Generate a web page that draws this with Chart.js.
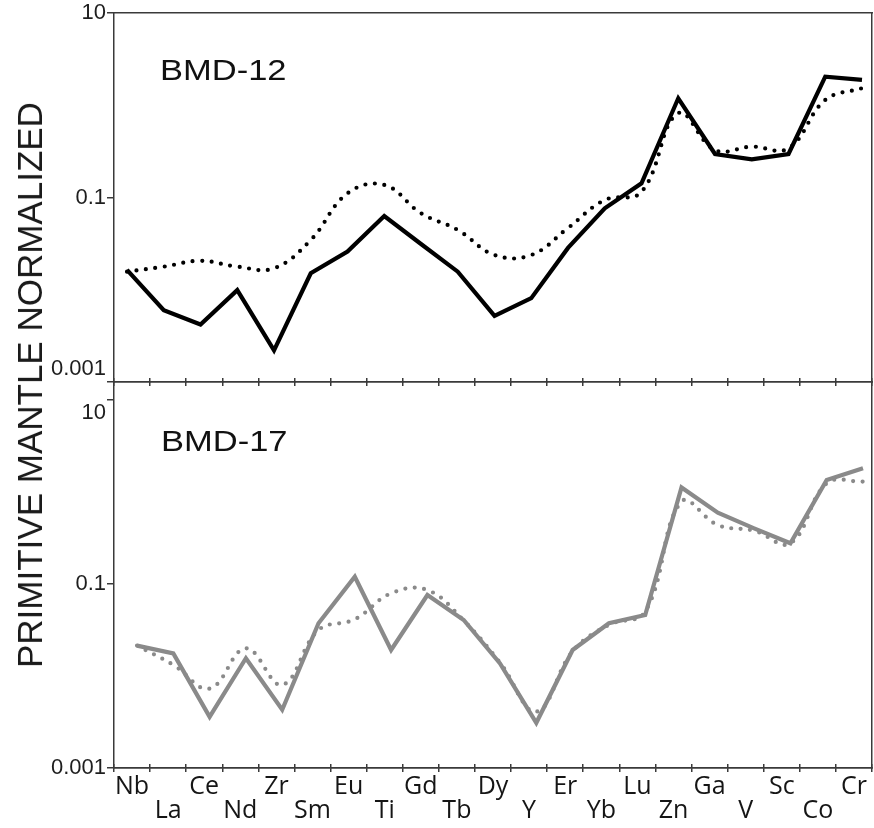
<!DOCTYPE html>
<html>
<head>
<meta charset="utf-8">
<script src="https://cdn.jsdelivr.net/npm/chart.js@4/dist/chart.umd.min.js"></script>
<style>
  html, body { margin: 0; padding: 0; background: #fff; }
  #fig { position: relative; width: 874px; height: 828px; overflow: hidden; }
  .panel { position: absolute; left: 0; width: 874px; }
  #top { top: 0; height: 388px; }
  #bot { top: 372px; height: 456px; }
  #ytitle {
    position: absolute; left: 30px; top: 385px;
    transform: translate(-50%, -50%) rotate(-90deg);
    font: 35px "Liberation Sans", Arial, sans-serif;
    color: #1a1a1a; white-space: nowrap;
  }
</style>
</head>
<body>
<div id="fig">
  <div class="panel" id="top"><canvas id="c1" width="874" height="388"></canvas></div>
  <div class="panel" id="bot"><canvas id="c2" width="874" height="456"></canvas></div>
  <div id="ytitle">PRIMITIVE MANTLE NORMALIZED</div>
</div>
<script>
// Elements along the x axis (spider diagram order)
const elements = ['Nb','La','Ce','Nd','Zr','Sm','Eu','Ti','Gd','Tb','Dy','Y','Er','Yb','Lu','Zn','Ga','V','Sc','Co','Cr'];

// Decade ticks shown on the log axis
const yTickValues = [10, 0.1, 0.001];
const yTickLabels = ['10', '0.1', '0.001'];

// BMD-12, primitive-mantle normalized
const bmd12Solid  = [0.0164, 0.0060, 0.0042, 0.0099, 0.0022, 0.0151, 0.0259, 0.063, 0.0313, 0.0157, 0.0052, 0.0081, 0.0284, 0.0764, 0.1425, 1.19, 0.296, 0.259, 0.296, 2.04, 1.88];
const bmd12Dotted = [0.0157, 0.0178, 0.0206, 0.0178, 0.0171, 0.0346, 0.111, 0.137, 0.0675, 0.0445, 0.0238, 0.0238, 0.0467, 0.094, 0.115, 0.82, 0.327, 0.356, 0.341, 1.14, 1.53];

// BMD-17, primitive-mantle normalized
const bmd17Solid  = [0.0214, 0.0176, 0.0036, 0.0156, 0.0043, 0.0374, 0.12, 0.0192, 0.0759, 0.0406, 0.0137, 0.0031, 0.0192, 0.0374, 0.046, 1.12, 0.596, 0.403, 0.277, 1.35, 1.81];
const bmd17Dotted = [0.0214, 0.0132, 0.0073, 0.020, 0.008, 0.0316, 0.0413, 0.0793, 0.086, 0.040, 0.014, 0.0041, 0.0185, 0.036, 0.050, 0.785, 0.437, 0.38, 0.277, 1.24, 1.30];

const AXIS = '#3a3a3a';
const AXIS_W = 1.5;

// Sample name written inside each panel
const panelLabel = {
  id: 'panelLabel',
  afterDraw(chart, args, o) {
    const ctx = chart.ctx;
    ctx.save();
    ctx.font = o.font;
    ctx.fillStyle = o.color;
    ctx.textBaseline = 'alphabetic';
    ctx.textAlign = 'left';
    ctx.translate(o.x, o.y);
    ctx.scale(o.stretch, 1);
    ctx.fillText(o.text, 0, 0);
    ctx.restore();
  }
};

function points(values) {
  return values.map((v, i) => ({ x: i, y: v }));
}

function yAxis(max, labelFor) {
  return {
    type: 'logarithmic', position: 'left', min: 0.001, max: max,
    afterBuildTicks: s => { s.ticks = yTickValues.map(v => ({ value: v })); },
    afterFit: s => { s.width = 114; s.paddingTop = 0; s.paddingBottom = 0; },
    ticks: {
      autoSkip: false, padding: 1, color: '#1e1e1e',
      font: { family: '"Liberation Sans", Arial, sans-serif', size: 22 },
      callback: (v, i) => labelFor(i)
    },
    grid: { drawOnChartArea: false, tickLength: 7, color: AXIS, lineWidth: AXIS_W },
    border: { color: AXIS, width: AXIS_W }
  };
}

function frameAxis(position) {
  const horizontal = position === 'top';
  return {
    type: horizontal ? 'category' : 'linear', position: position,
    ticks: { display: false },
    grid: { display: false },
    border: { color: AXIS, width: AXIS_W },
    afterFit: s => { if (horizontal) s.height = 0; else s.width = 0; }
  };
}

function tickAxis(position, weight, tickLen, height, showLabels) {
  return {
    type: 'category', position: position, weight: weight, offset: true,
    ticks: showLabels ? {
      display: true, autoSkip: false, maxRotation: 0, minRotation: 0, padding: 3,
      color: '#151515',
      font: { family: '"Open Sans", sans-serif', size: 25, lineHeight: 0.96 },
      callback: (v, i) => (i % 2 === 0 ? [elements[i], ''] : ['', elements[i]])
    } : { display: false },
    grid: { drawOnChartArea: false, offset: true, tickLength: tickLen, color: AXIS, lineWidth: AXIS_W },
    border: { color: AXIS, width: AXIS_W },
    afterFit: s => { s.height = height; }
  };
}

function dataAxis(min, max) {
  return { type: 'linear', display: false, min: min, max: max };
}

function datasets(solid, dotted, color) {
  return [
    {
      data: points(solid), xAxisID: 'xd', yAxisID: 'y',
      borderColor: color, borderWidth: 4.2, borderJoinStyle: 'miter',
      pointRadius: 0, tension: 0, fill: false
    },
    {
      data: points(dotted), xAxisID: 'xd', yAxisID: 'y',
      borderColor: color, borderWidth: 4.2, borderDash: [0, 9.5], borderCapStyle: 'round',
      pointRadius: 0, tension: 0.4, fill: false
    }
  ];
}

const common = {
  responsive: false, animation: false, events: [],
  plugins: { legend: { display: false }, tooltip: { enabled: false } }
};

// Upper panel: BMD-12
new Chart(document.getElementById('c1'), {
  type: 'line',
  data: { labels: elements, datasets: datasets(bmd12Solid, bmd12Dotted, '#000') },
  plugins: [panelLabel],
  options: {
    ...common,
    layout: { padding: { top: 13, right: 2, left: 0, bottom: 0 } },
    plugins: {
      ...common.plugins,
      panelLabel: { text: 'BMD-12', x: 160, y: 80, stretch: 1.15, color: '#111',
                    font: '30px "Liberation Sans", Arial, sans-serif' }
    },
    scales: {
      y: yAxis(10, i => (i === 2 ? [yTickLabels[i], ''] : yTickLabels[i])),
      yr: frameAxis('right'),
      xt: frameAxis('top'),
      x: tickAxis('bottom', 0, -4, 6, false),
      xd: dataAxis(-0.354, 20.272)
    }
  }
});

// Lower panel: BMD-17
new Chart(document.getElementById('c2'), {
  type: 'line',
  data: { labels: elements, datasets: datasets(bmd17Solid, bmd17Dotted, '#8a8a8a') },
  plugins: [panelLabel],
  options: {
    ...common,
    layout: { padding: { top: 10, right: 2, left: 0, bottom: 0 } },
    plugins: {
      ...common.plugins,
      panelLabel: { text: 'BMD-17', x: 161, y: 79, stretch: 1.15, color: '#111',
                    font: '30px "Liberation Sans", Arial, sans-serif' }
    },
    scales: {
      y: yAxis(15.7, i => (i === 0 ? ['', yTickLabels[i]] : yTickLabels[i])),
      yr: frameAxis('right'),
      xt: tickAxis('top', 0, -4, 0, false),
      xin: tickAxis('bottom', 0, -4, 0, false),
      x: tickAxis('bottom', 1, 4, 60, true),
      xd: dataAxis(-0.634, 20.248)
    }
  }
});
</script>
</body>
</html>
